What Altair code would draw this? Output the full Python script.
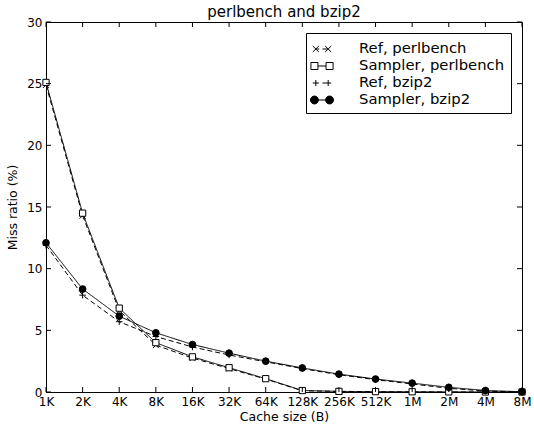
import altair as alt
import pandas as pd

cats = ["1K", "2K", "4K", "8K", "16K", "32K", "64K", "128K", "256K", "512K", "1M", "2M", "4M", "8M"]
series_names = ["Ref, perlbench", "Sampler, perlbench", "Ref, bzip2", "Sampler, bzip2"]
ref_perl = [24.9, 14.3, 6.6, 3.8, 2.75, 1.9, 1.05, 0.1, 0.05, 0.02, 0.01, 0.0, 0.0, 0.0]
samp_perl = [25.1, 14.5, 6.8, 4.0, 2.85, 1.97, 1.08, 0.12, 0.05, 0.03, 0.02, 0.01, 0.0, 0.0]
ref_bzip = [11.9, 7.85, 5.7, 4.5, 3.65, 3.0, 2.45, 1.9, 1.4, 1.0, 0.65, 0.3, 0.08, 0.0]
samp_bzip = [12.1, 8.35, 6.15, 4.8, 3.85, 3.15, 2.5, 1.95, 1.45, 1.05, 0.72, 0.38, 0.12, 0.02]
y_ticks = [0, 5, 10, 15, 20, 25, 30]

rows = []
for name, vals in zip(series_names, [ref_perl, samp_perl, ref_bzip, samp_bzip]):
    for i, (c, v) in enumerate(zip(cats, vals)):
        rows.append({"series": name, "cache": c, "idx": i, "miss": v})
df = pd.DataFrame(rows)

W, H = 476, 370

x_scale = alt.Scale(type="point", domain=cats, padding=0)
y_scale = alt.Scale(domain=[0, 30], nice=False)

x_enc = alt.X("cache:O", scale=x_scale, sort=cats,
              axis=alt.Axis(title="Cache size (B)", labelAngle=0, ticks=False,
                            labelFontSize=12, labelPadding=4, titleFontSize=12.5,
                            titleFontWeight="normal", titlePadding=3, domainColor="black",
                            labelColor="black", titleColor="black", grid=False))
y_enc = alt.Y("miss:Q", scale=y_scale,
              axis=alt.Axis(title="Miss ratio (%)", values=y_ticks, ticks=False,
                            labelFontSize=12, labelPadding=4, titleFontSize=12.5,
                            titleFontWeight="normal", titlePadding=7, domainColor="black",
                            labelColor="black", titleColor="black", grid=False))

base = alt.Chart(df)

lines = base.mark_line(color="black", strokeWidth=1).encode(
    x=x_enc, y=y_enc,
    strokeDash=alt.StrokeDash("series:N", scale=alt.Scale(domain=series_names,
                              range=[[5, 3], [1, 0], [5, 3], [1, 0]]), legend=None),
    order=alt.Order("idx:Q"),
)

cross_x = "M-1,-1L1,1M-1,1L1,-1"
plus = "M-1,0L1,0M0,-1L0,1"
points = base.mark_point(stroke="black", strokeWidth=1, opacity=1).encode(
    x=alt.X("cache:O", scale=x_scale, sort=cats),
    y=alt.Y("miss:Q", scale=y_scale),
    shape=alt.Shape("series:N", scale=alt.Scale(domain=series_names,
                    range=[cross_x, "square", plus, "circle"]), legend=None),
    fill=alt.Fill("series:N", scale=alt.Scale(domain=series_names,
                  range=["transparent", "white", "transparent", "black"]), legend=None),
    size=alt.Size("series:N", scale=alt.Scale(domain=series_names,
                  range=[36, 45, 49, 55]), legend=None),
)

leg_ref_perl = ("M-1,-0.33L-0.34,0.33M-1,0.33L-0.34,-0.33"
                "M0.34,-0.33L1,0.33M0.34,0.33L1,-0.33"
                "M-0.67,0L-0.3,0M0.05,0L0.67,0")
leg_samp_perl = ("M-1.2,-0.38L-0.44,-0.38L-0.44,0.38L-1.2,0.38Z"
                 "M0.44,-0.38L1.2,-0.38L1.2,0.38L0.44,0.38Z"
                 "M-0.44,0L0.44,0")
leg_ref_bzip = ("M-1,0L-0.34,0M-0.67,-0.33L-0.67,0.33"
                "M0.34,0L1,0M0.67,-0.33L0.67,0.33"
                "M0.05,0L0.34,0")
leg_samp_bzip = ("M-1.25,0A0.43,0.43,0,1,1,-0.39,0A0.43,0.43,0,1,1,-1.25,0Z"
                 "M0.39,0A0.43,0.43,0,1,1,1.25,0A0.43,0.43,0,1,1,0.39,0Z"
                 "M-0.39,0L0.39,0")

legend_def = alt.Legend(title=None, orient="top-right", offset=11, symbolSize=340,
                        symbolStrokeColor="black", symbolStrokeWidth=1,
                        labelFontSize=14.8, labelOffset=27, padding=6, rowPadding=0,
                        strokeColor="black", fillColor="white", cornerRadius=0,
                        labelColor="black")

legend_layer = base.transform_filter("false").mark_point(
    stroke="black", strokeWidth=1, opacity=1).encode(
    shape=alt.Shape("series:N", scale=alt.Scale(domain=series_names,
                    range=[leg_ref_perl, leg_samp_perl, leg_ref_bzip, leg_samp_bzip]),
                    legend=legend_def),
    fill=alt.Fill("series:N", scale=alt.Scale(domain=series_names,
                  range=["transparent", "white", "transparent", "black"]),
                  legend=legend_def),
    stroke=alt.Stroke("series:N", scale=alt.Scale(domain=series_names,
                      range=["black", "black", "black", "black"]),
                      legend=legend_def),
)

tick_df = pd.DataFrame({"yt": y_ticks})
ytick_left = alt.Chart(tick_df).mark_rule(color="black", strokeWidth=1).encode(
    y=alt.Y("yt:Q", scale=y_scale), x=alt.value(0), x2=alt.value(5))
ytick_right = alt.Chart(tick_df).mark_rule(color="black", strokeWidth=1).encode(
    y=alt.Y("yt:Q", scale=y_scale), x=alt.value(W - 5), x2=alt.value(W))

xt_df = pd.DataFrame({"cache": cats})
xtick_bottom = alt.Chart(xt_df).mark_rule(color="black", strokeWidth=1).encode(
    x=alt.X("cache:O", scale=x_scale, sort=cats), y=alt.value(H), y2=alt.value(H - 5))
xtick_top = alt.Chart(xt_df).mark_rule(color="black", strokeWidth=1).encode(
    x=alt.X("cache:O", scale=x_scale, sort=cats), y=alt.value(0), y2=alt.value(5))

chart = alt.layer(
    lines, points, legend_layer, ytick_left, ytick_right, xtick_bottom, xtick_top
).resolve_scale(
    shape="independent", fill="independent", stroke="independent"
).properties(
    width=W, height=H,
    title=alt.TitleParams("perlbench and bzip2", fontSize=15, fontWeight="normal",
                          offset=-4, color="black", font="DejaVu Sans"),
    autosize=alt.AutoSizeParams(type="none"),
    padding={"left": 46, "top": 22, "right": 12, "bottom": 38},
).configure(
    font="DejaVu Sans",
).configure_view(
    stroke="black", strokeWidth=1,
).configure_axis(
    labelFont="DejaVu Sans", titleFont="DejaVu Sans",
).configure_legend(
    labelFont="DejaVu Sans",
)

chart.save("out.html", embed_options={"renderer": "svg", "actions": False})
